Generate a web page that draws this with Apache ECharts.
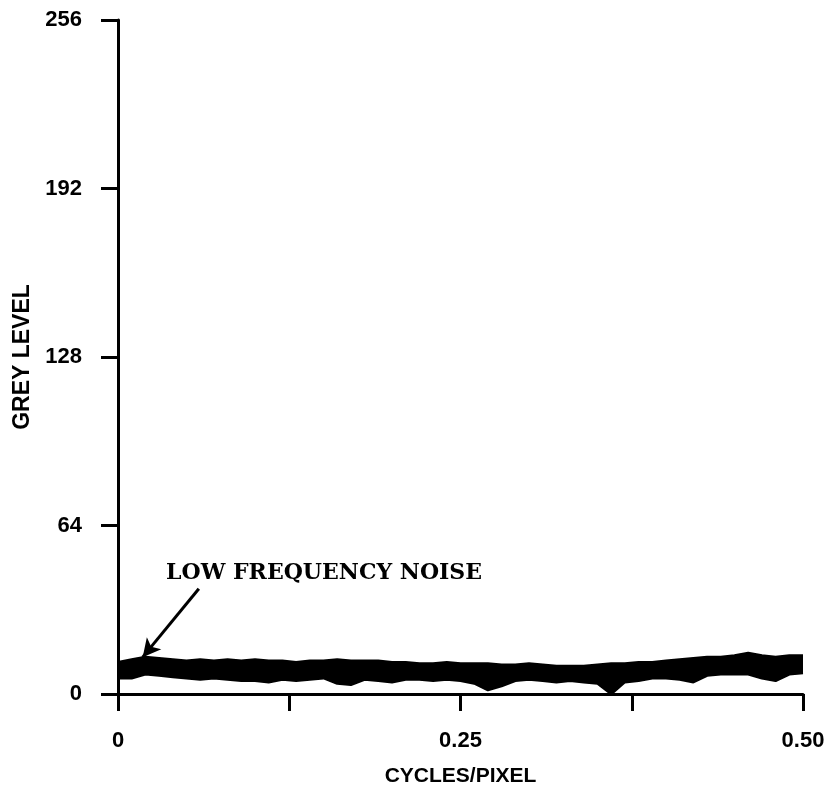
<!DOCTYPE html>
<html>
<head>
<meta charset="utf-8">
<script src="https://cdn.jsdelivr.net/npm/echarts@6/dist/echarts.min.js"></script>
<style>
html,body{margin:0;padding:0;background:#fff;}
#chart{width:832px;height:786px;}
</style>
</head>
<body>
<div id="chart"></div>
<script>
// Spatial frequency (cycles/pixel)
var freq = [0.00,0.01,0.02,0.03,0.04,0.05,0.06,0.07,0.08,0.09,
            0.10,0.11,0.12,0.13,0.14,0.15,0.16,0.17,0.18,0.19,
            0.20,0.21,0.22,0.23,0.24,0.25,0.26,0.27,0.28,0.29,
            0.30,0.31,0.32,0.33,0.34,0.35,0.36,0.37,0.38,0.39,
            0.40,0.41,0.42,0.43,0.44,0.45,0.46,0.47,0.48,0.49,0.50];
// Upper envelope of the noise band (grey level)
var upper = [12,13,14,13.5,13,12.5,13,12.5,13,12.5,
             13,12.5,12.5,12,12.5,12.5,13,12.5,12.5,12.5,
             12,12,11.5,11.5,12,11.5,11.5,11.5,11,11,
             11.5,11,10.5,10.5,10.5,11,11.5,11.5,12,12,
             12.5,13,13.5,14,14,14.5,15.5,14.5,14,14.5,14.5];
// Lower envelope of the noise band (grey level)
var lower = [6,6,7.5,7,6.5,6,5.5,6,5.5,5,
             5,4.5,5.5,5,5.5,6,4,3.5,5.5,5,
             4.5,5.5,5.5,5,5.5,5,4,1.5,3,5,
             5.5,5,4.5,5,4.5,4,0,4.5,5,6,
             6,5.5,4.5,7,7.5,7.5,7.5,6,5,7.5,8];
var yTicks = [0,64,128,192,256];
var xTicks = [0,0.125,0.25,0.375,0.5];
var xTickLabels = {'0':'0','0.25':'0.25','0.5':'0.50'};
var annotation = 'LOW FREQUENCY NOISE';
// arrow in data coordinates: from label to band
var arrowFrom = [0.059, 40];
var arrowTo = [0.018, 14];

var upperData = freq.map(function(f,i){return [f, upper[i]];});
var lowerData = freq.map(function(f,i){return [f, lower[i]];});

var chart = echarts.init(document.getElementById('chart'), null, {renderer:'canvas'});
var axisFont = {color:'#000', fontFamily:'Liberation Sans, Arial, sans-serif', fontWeight:'bold', fontSize:22};
chart.setOption({
  backgroundColor:'#fff',
  animation:false,
  grid:{left:118, right:29, top:20, bottom:92, containLabel:false, outerBoundsMode:'none'},
  xAxis:{
    type:'value', min:0, max:0.5, interval:0.125, z:10,
    name:'CYCLES/PIXEL', nameLocation:'middle', nameGap:72,
    nameTextStyle:Object.assign({}, axisFont, {fontSize:21}),
    axisLine:{show:true, onZero:false, lineStyle:{color:'#000', width:3}},
    axisTick:{show:true, inside:false, length:17, lineStyle:{color:'#000', width:3}},
    axisLabel:Object.assign({}, axisFont, {margin:36, formatter:function(v){
      var k = String(v); return xTickLabels.hasOwnProperty(k) ? xTickLabels[k] : '';}}),
    splitLine:{show:false}
  },
  yAxis:{
    type:'value', min:0, max:256, interval:64, z:10,
    name:'GREY LEVEL', nameLocation:'middle', nameGap:81, nameRotate:90,
    nameTextStyle:Object.assign({}, axisFont, {fontSize:23}),
    axisLine:{show:true, lineStyle:{color:'#000', width:3}},
    axisTick:{show:true, inside:false, length:17, lineStyle:{color:'#000', width:3}},
    axisLabel:Object.assign({}, axisFont, {margin:36}),
    splitLine:{show:false}
  },
  graphic:[{
    type:'text', left:166, top:562, z:20,
    style:{text:annotation, fill:'#000', font:'bold 22px "DejaVu Serif", "Liberation Serif", serif'}
  }],
  series:[
    {
      type:'line', data:upperData, symbol:'none', z:2,
      lineStyle:{color:'#000', width:3}, areaStyle:{color:'#000', opacity:1, origin:'start'},
      markLine:{
        silent:true, symbol:['none','arrow'], symbolSize:[14,18],
        label:{show:false},
        lineStyle:{color:'#000', width:3, type:'solid'},
        data:[[{coord:arrowFrom},{coord:arrowTo}]]
      }
    },
    {
      type:'line', data:lowerData, symbol:'none', z:3,
      lineStyle:{color:'#000', width:2.5}, areaStyle:{color:'#fff', opacity:1, origin:'start'}
    }
  ]
});
</script>
</body>
</html>
